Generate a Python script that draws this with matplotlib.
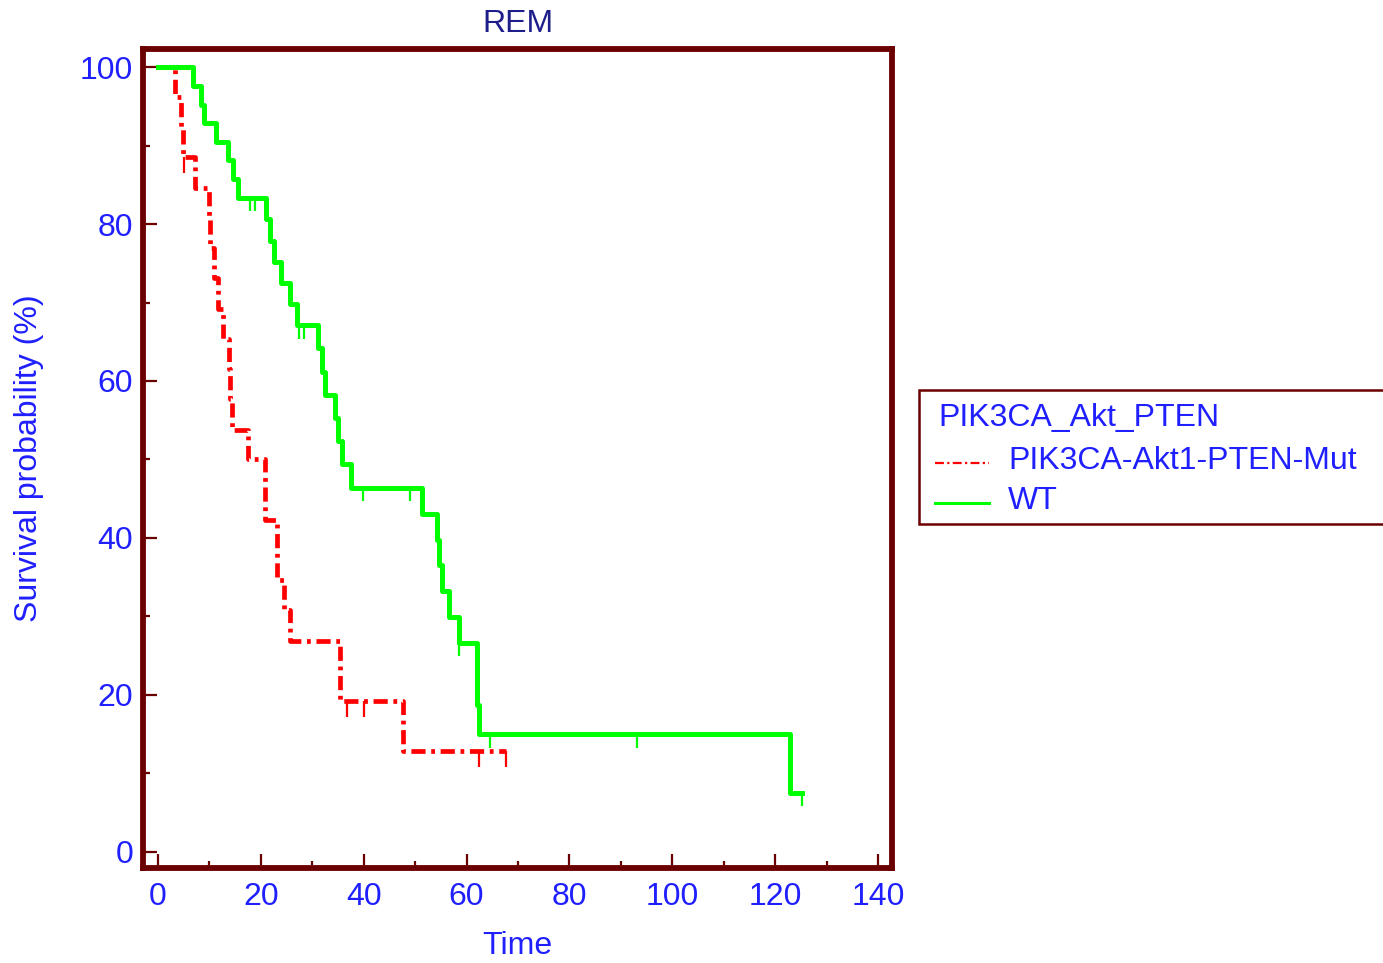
import matplotlib
matplotlib.use("Agg")
import matplotlib.pyplot as plt
from matplotlib.lines import Line2D
from matplotlib.patches import Rectangle

# Kaplan-Meier steps (time, survival %)
mut_time = [0, 3.3, 4.4, 4.8, 7.2, 10.0, 10.2, 10.9, 11.6, 12.7, 13.9, 14.1, 14.4,
            17.6, 20.8, 23.1, 24.5, 25.7, 35.4, 47.7, 67.7]
mut_surv = [100, 96.2, 92.3, 88.5, 84.6, 80.8, 76.9, 73.1, 69.2, 65.4, 61.5, 57.7, 53.8,
            50.0, 42.3, 34.6, 30.8, 26.9, 19.2, 12.8, 12.8]
mut_cens_time = [5.0, 36.7, 40.1, 62.5, 67.7]
mut_cens_surv = [88.5, 19.2, 19.2, 12.8, 12.8]

wt_time = [0, 6.9, 8.3, 8.9, 11.2, 13.7, 14.5, 15.5, 21.1, 21.8, 22.6, 24.0, 25.7, 27.0,
           31.2, 31.8, 32.5, 34.4, 35.1, 35.7, 37.5, 51.3, 54.2, 54.7, 55.3, 56.5, 58.6,
           62.0, 62.5, 122.8, 125.3]
wt_surv = [100, 97.6, 95.2, 92.9, 90.5, 88.1, 85.7, 83.3, 80.6, 77.9, 75.2, 72.5, 69.8, 67.1,
           64.2, 61.2, 58.2, 55.3, 52.3, 49.4, 46.4, 43.1, 39.8, 36.5, 33.2, 29.9, 26.6,
           18.7, 15.0, 7.5, 7.5]
wt_cens_time = [17.9, 18.9, 27.4, 28.4, 39.8, 49.0, 58.6, 64.6, 93.2, 125.3]
wt_cens_surv = [83.3, 83.3, 67.1, 67.1, 46.4, 46.4, 26.6, 15.0, 15.0, 7.5]

group_title = "PIK3CA_Akt_PTEN"
group_names = ["PIK3CA-Akt1-PTEN-Mut", "WT"]

MAROON = '#6b0000'
BLUE = '#1f1fff'
NAVY = '#1e1e8a'
RED = '#ff0000'
GREEN = '#00ff00'
FONT = 'Liberation Sans'
FS = 23

W, H = 1383, 963
fig = plt.figure(figsize=(W / 100, H / 100), dpi=100)
ax = fig.add_axes([143 / W, 1 - 868 / H, (892 - 143) / W, (868 - 49) / H])

# curves
ax.step(mut_time, mut_surv, where='post', color=RED, lw=3.4,
        linestyle=(0, (3.0, 1.2, 0.8, 1.2)), zorder=3)
ax.vlines(mut_cens_time, [s - 2.0 for s in mut_cens_surv], mut_cens_surv,
          color=RED, lw=1.6, zorder=3)
ax.step(wt_time, wt_surv, where='post', color=GREEN, lw=3.6, zorder=4)
ax.vlines(wt_cens_time, [s - 1.7 for s in wt_cens_surv], wt_cens_surv,
          color=GREEN, lw=1.6, zorder=4)

ax.set_xlim(-2.9, 142.7)
ax.set_ylim(-2.05, 102.3)
ax.set_xticks(range(0, 141, 20))
ax.set_xticks(range(10, 140, 20), minor=True)
ax.set_yticks(range(0, 101, 20))
ax.set_yticks(range(10, 100, 20), minor=True)

for sp in ax.spines.values():
    sp.set_color(MAROON)
    sp.set_linewidth(4.2)
ax.tick_params(which='both', direction='in', color=MAROON, width=1.6,
               top=False, right=False)
ax.tick_params(which='major', length=10, labelsize=FS, labelcolor=BLUE)
ax.tick_params(which='minor', length=5)
ax.tick_params(axis='y', which='major', pad=7)
ax.tick_params(axis='x', which='major', pad=10)
for lab in ax.get_xticklabels() + ax.get_yticklabels():
    lab.set_fontfamily(FONT)

ax.set_title("REM", fontsize=FS, color=NAVY, family=FONT, pad=12)
ax.set_xlabel("Time", fontsize=FS, color=BLUE, family=FONT, labelpad=14)
ax.set_ylabel("Survival probability (%)", fontsize=FS, color=BLUE, family=FONT, labelpad=26)

# legend box, drawn in figure pixels (it runs off the right edge)
def fx(px):
    return px / W

def fy(py):
    return 1 - py / H

fig.patches.append(Rectangle((fx(919), fy(524)), fx(1395) - fx(919), fy(390) - fy(524),
                             transform=fig.transFigure, facecolor='white',
                             edgecolor=MAROON, lw=1.8, clip_on=False))
fig.text(fx(938), fy(418), group_title, fontsize=FS, color=BLUE, family=FONT, va='center')
fig.lines.append(Line2D([fx(935), fx(989)], [fy(463), fy(463)], transform=fig.transFigure,
                        color=RED, lw=1.6, linestyle=(0, (4, 1.5, 1, 1.5))))
fig.text(fx(1008), fy(461), group_names[0], fontsize=FS, color=BLUE, family=FONT, va='center')
fig.lines.append(Line2D([fx(935), fx(989)], [fy(503), fy(503)], transform=fig.transFigure,
                        color=GREEN, lw=2.2))
fig.text(fx(1008), fy(501), group_names[1], fontsize=FS, color=BLUE, family=FONT, va='center')

fig.savefig("out.png", dpi=100, facecolor='white')
